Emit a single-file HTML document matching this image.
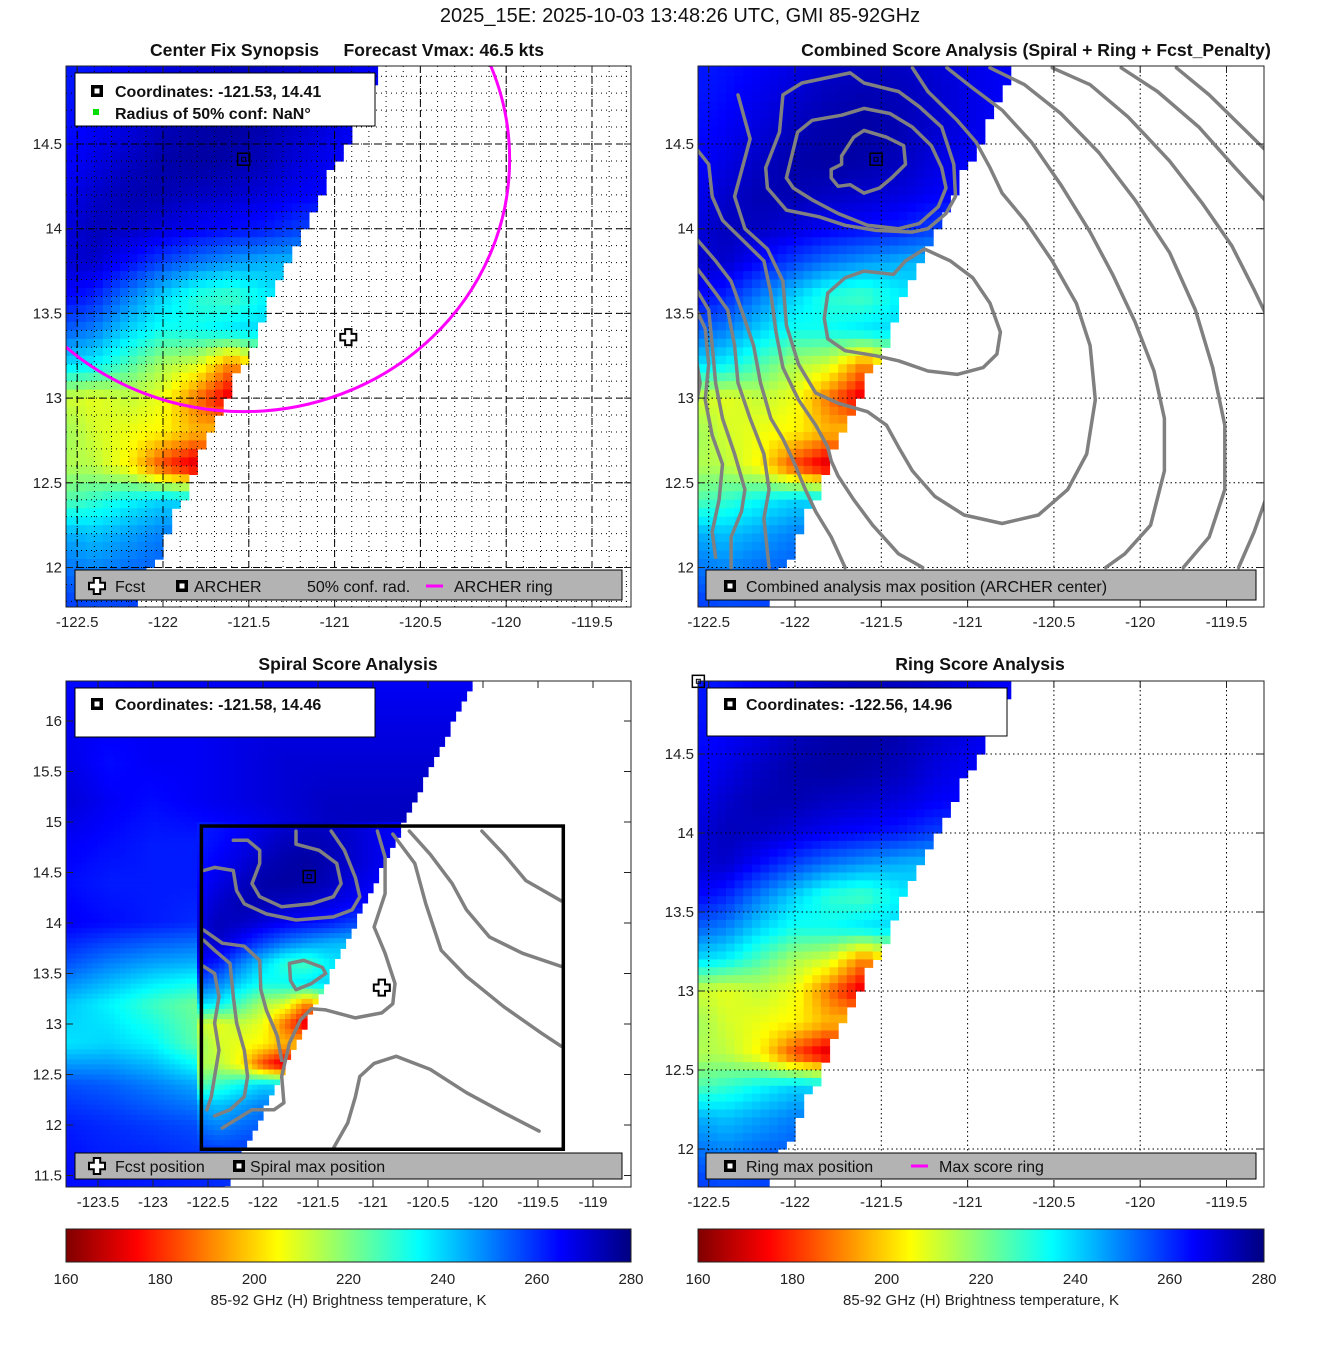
<!DOCTYPE html>
<html><head><meta charset="utf-8"><title>GMI 85-92GHz Center Fix</title>
<style>
html,body{margin:0;padding:0;background:#fff;}
svg{display:block;font-family:"Liberation Sans","DejaVu Sans",sans-serif;}
.tk{font-size:15px;fill:#222;}
.ttl{font-size:17.6px;font-weight:bold;fill:#111;}
.lg{font-size:16px;fill:#111;}
.lgb{font-size:16px;font-weight:bold;fill:#111;}
</style></head>
<body>
<svg id="fig" width="1317" height="1350" viewBox="0 0 1317 1350" xmlns="http://www.w3.org/2000/svg">
<rect x="0" y="0" width="1317" height="1350" fill="#fff"/>
<text x="680" y="22" text-anchor="middle" font-size="20" fill="#111">2025_15E: 2025-10-03 13:48:26 UTC, GMI 85-92GHz</text>
<text class="ttl" x="347" y="56" text-anchor="middle" xml:space="preserve">Center Fix Synopsis     Forecast Vmax: 46.5 kts</text>
<text class="ttl" x="1036" y="56" text-anchor="middle">Combined Score Analysis (Spiral + Ring + Fcst_Penalty)</text>
<text class="ttl" x="348" y="670" text-anchor="middle">Spiral Score Analysis</text>
<text class="ttl" x="980" y="670" text-anchor="middle">Ring Score Analysis</text>
<defs>
<clipPath id="clip1"><rect x="66" y="66" width="565" height="541"/></clipPath>
<clipPath id="clip2"><rect x="698" y="66" width="566" height="541"/></clipPath>
<clipPath id="clip3"><rect x="66" y="681" width="565" height="506"/></clipPath>
<clipPath id="clip4"><rect x="698" y="681" width="566" height="506"/></clipPath>
<linearGradient id="cbgrad" x1="0" x2="1" y1="0" y2="0"></linearGradient>
</defs>
<g id="layers"></g>
</svg>
<script>
// ---------------- DATA ----------------
const fineLons = [-122.6,-122.4,-122.2,-122.0,-121.8,-121.6,-121.4,-121.2,-121.0,-120.8,-120.6];
const fineLats = [15.0,14.8,14.6,14.4,14.2,14.0,13.8,13.6,13.4,13.2,13.0,12.8,12.6,12.4,12.2,12.0,11.8];
const fineTb = [
[262,263,265,268,270,272,272,270,268,266,265],
[262,264,267,270,273,274,273,271,268,266,265],
[263,266,269,273,275,276,274,271,268,265,264],
[264,268,272,275,276,275,273,269,266,264,262],
[266,271,274,274,272,271,269,266,264,262,260],
[268,273,272,269,266,264,262,258,256,255,255],
[270,271,264,257,251,247,244,242,242,242,242],
[266,261,250,240,230,227,236,240,240,240,240],
[255,250,240,233,234,238,240,240,240,240,240],
[240,236,226,215,210,190,210,220,225,230,230],
[212,208,212,207,188,170,200,215,220,225,230],
[218,210,207,204,196,200,210,220,225,230,230],
[215,213,204,182,168,200,215,225,230,235,235],
[224,229,235,240,238,240,240,240,240,240,240],
[245,242,246,250,250,250,250,250,250,250,250],
[252,249,252,254,255,255,255,255,255,255,255],
[258,256,257,258,258,258,258,258,258,258,258]];
const coarseLons = [-123.8,-123.4,-123.0,-122.6,-122.2,-121.8,-121.4,-121.0,-120.6,-120.2];
const coarseLats = [16.4,16.0,15.6,15.2,14.8,14.4,14.0,13.6,13.2,12.8,12.4,12.0,11.6,11.2];
const coarseTb = [
[264,264,266,266,266,266,266,266,266,266],
[266,266,266,266,268,268,268,268,268,268],
[268,264,266,266,268,270,270,270,270,270],
[270,266,264,266,268,270,272,272,272,272],
[266,264,262,262,264,268,272,272,272,272],
[264,262,262,262,264,270,274,272,270,270],
[266,264,262,260,262,266,264,262,258,258],
[256,250,246,244,250,250,240,240,240,240],
[242,236,228,222,230,218,205,225,230,230],
[238,240,236,224,212,198,200,220,230,230],
[256,254,250,245,240,235,235,240,240,240],
[262,260,258,256,254,252,252,252,252,252],
[264,262,262,260,258,256,256,256,256,256],
[264,264,262,262,260,258,258,258,258,258]];
const edgeLat = [14.96,14.49,14.3,14.02,13.94,13.75,13.52,13.24,13.11,12.93,12.82,12.59,12.44,12.27,12.08,12.0,11.76];
const edgeLon = [-120.73,-120.94,-121.04,-121.15,-121.2,-121.3,-121.4,-121.5,-121.6,-121.65,-121.71,-121.82,-121.86,-121.96,-122.02,-122.07,-122.17];
const wideEdgeLat = [16.4,11.3];
const wideEdgeLon = [-120.09,-122.37];
const archerPos = [-121.53,14.41];
const spiralPos = [-121.58,14.46];
const ringPos = [-122.56,14.96];
const fcstPos = [-120.92,13.36];
const ringRadius = [1.55,1.49];
const boxLon = [-122.56,-119.27];
const boxLat = [11.76,14.96];
const xTicks12 = [-122.5,-122,-121.5,-121,-120.5,-120,-119.5];
const yTicks12 = [12,12.5,13,13.5,14,14.5];
const xTicks3 = [-123.5,-123,-122.5,-122,-121.5,-121,-120.5,-120,-119.5,-119];
const yTicks3 = [11.5,12,12.5,13,13.5,14,14.5,15,15.5,16];
const cbTicks = [160,180,200,220,240,260,280];
const cA = [[-121.73,14.43],[-121.66,14.54],[-121.60,14.58],[-121.47,14.54],[-121.37,14.49],[-121.36,14.38],[-121.44,14.30],[-121.51,14.24],[-121.60,14.21],[-121.68,14.26],[-121.75,14.25],[-121.79,14.30],[-121.79,14.35],[-121.73,14.38],[-121.73,14.43]];
const cB = [[-122.05,14.30],[-121.985,14.57],[-121.90,14.64],[-121.73,14.67],[-121.60,14.71],[-121.45,14.68],[-121.32,14.60],[-121.21,14.49],[-121.15,14.36],[-121.125,14.24],[-121.17,14.13],[-121.28,14.03],[-121.40,14.00],[-121.58,14.02],[-121.75,14.09],[-121.90,14.17],[-122.01,14.24],[-122.05,14.30]];
const cC = [[-122.17,14.36],[-122.09,14.57],[-122.07,14.79],[-121.96,14.86],[-121.68,14.92],[-121.60,14.86],[-121.40,14.81],[-121.28,14.72],[-121.15,14.60],[-121.08,14.38],[-121.07,14.19],[-121.125,14.09],[-121.23,14.00],[-121.32,13.98],[-121.53,13.99],[-121.71,14.02],[-121.86,14.07],[-122.05,14.11],[-122.16,14.24],[-122.17,14.36]];
const cE1 = [[-121.81,13.62],[-121.71,13.71],[-121.60,13.75],[-121.43,13.73],[-121.36,13.81],[-121.25,13.88],[-121.10,13.81],[-120.97,13.71],[-120.87,13.56],[-120.81,13.39],[-120.83,13.26],[-120.91,13.18],[-121.06,13.14],[-121.23,13.16],[-121.40,13.22],[-121.53,13.25],[-121.71,13.28],[-121.81,13.35],[-121.83,13.47],[-121.81,13.62]];
const cE2 = [[-122.33,14.79],[-122.26,14.53],[-122.35,14.19],[-122.29,14.00],[-122.16,13.88],[-122.07,13.69],[-122.05,13.43],[-121.98,13.20],[-121.88,13.03],[-121.75,12.97],[-121.58,12.92],[-121.47,12.84],[-121.40,12.71],[-121.32,12.57],[-121.19,12.42],[-121.02,12.31],[-120.80,12.26],[-120.59,12.31],[-120.42,12.46],[-120.31,12.67],[-120.26,12.99],[-120.29,13.31],[-120.37,13.56],[-120.51,13.81],[-120.67,14.05],[-120.80,14.21],[-120.87,14.36],[-120.95,14.51],[-121.06,14.64],[-121.23,14.81],[-121.32,14.95]];
const cE3 = [[-121.12,14.95],[-120.97,14.83],[-120.80,14.70],[-120.63,14.51],[-120.46,14.26],[-120.29,13.98],[-120.16,13.73],[-120.03,13.45],[-119.92,13.16],[-119.86,12.88],[-119.86,12.57],[-119.94,12.25],[-120.09,12.08],[-120.20,12.00]];
const cE4 = [[-120.87,14.95],[-120.67,14.85],[-120.46,14.68],[-120.24,14.45],[-120.03,14.17],[-119.83,13.86],[-119.68,13.52],[-119.58,13.18],[-119.51,12.84],[-119.51,12.46],[-119.60,12.18],[-119.75,12.00]];
const cE5 = [[-120.51,14.95],[-120.29,14.85],[-120.07,14.66],[-119.83,14.40],[-119.64,14.15],[-119.47,13.90],[-119.34,13.64],[-119.26,13.47]];
const cE5b = [[-119.43,12.00],[-119.34,12.21],[-119.26,12.44]];
const cE6 = [[-120.11,14.95],[-119.90,14.81],[-119.66,14.60],[-119.45,14.36],[-119.26,14.15]];
const cE7 = [[-119.79,14.95],[-119.60,14.79],[-119.43,14.62],[-119.26,14.45]];
const cL2 = [[-122.57,14.47],[-122.50,14.38],[-122.48,14.19],[-122.42,14.05],[-122.29,13.92],[-122.18,13.81],[-122.14,13.62],[-122.11,13.39],[-122.07,13.18],[-121.98,12.99],[-121.88,12.84],[-121.81,12.71],[-121.79,12.63],[-121.75,12.54],[-121.66,12.40],[-121.55,12.25],[-121.40,12.08],[-121.26,12.00]];
const cL3 = [[-122.57,13.94],[-122.46,13.81],[-122.37,13.69],[-122.31,13.52],[-122.24,13.31],[-122.20,13.09],[-122.14,12.88],[-122.07,12.76],[-122.01,12.63],[-121.94,12.46],[-121.88,12.33],[-121.79,12.18],[-121.71,12.00]];
const cL4 = [[-122.57,13.77],[-122.46,13.62],[-122.39,13.52],[-122.35,13.31],[-122.33,13.09],[-122.26,12.88],[-122.18,12.67],[-122.15,12.46],[-122.18,12.29],[-122.15,12.00]];
const cL5 = [[-122.57,13.64],[-122.50,13.52],[-122.48,13.31],[-122.46,13.09],[-122.42,12.88],[-122.35,12.67],[-122.29,12.46],[-122.31,12.33],[-122.37,12.18],[-122.37,12.00]];
const cL6 = [[-122.57,13.52],[-122.52,13.41],[-122.50,13.20],[-122.52,12.99],[-122.48,12.78],[-122.42,12.61],[-122.44,12.40],[-122.48,12.21],[-122.46,12.06]];
const cL7 = [[-122.57,13.22],[-122.55,13.09],[-122.57,12.97]];
const combinedContours = [cA,cB,cC,cE1,cE2,cE3,cE4,cE5,cE5b,cE6,cE7,cL2,cL3,cL4,cL5,cL6,cL7];
const s1 = [[-121.70,14.91],[-121.70,14.78],[-121.49,14.72],[-121.33,14.59],[-121.29,14.39],[-121.36,14.26],[-121.56,14.19],[-121.83,14.16],[-122.03,14.26],[-122.10,14.39],[-122.03,14.59],[-122.03,14.72],[-122.14,14.82],[-122.27,14.82]];
const s2 = [[-121.38,14.91],[-121.26,14.72],[-121.16,14.45],[-121.12,14.26],[-121.19,14.13],[-121.36,14.06],[-121.70,14.03],[-121.97,14.09],[-122.17,14.19],[-122.24,14.32],[-122.27,14.52],[-122.44,14.55],[-122.54,14.52]];
const s3 = [[-120.96,14.91],[-120.89,14.65],[-120.89,14.29],[-120.99,13.96],[-120.89,13.70],[-120.80,13.40],[-120.82,13.20],[-120.92,13.11],[-121.16,13.06],[-121.43,13.14],[-121.56,13.15],[-121.66,13.04],[-121.76,12.81],[-121.83,12.48],[-121.81,12.22],[-121.90,12.15],[-122.10,12.15],[-122.37,11.97]];
const s4 = [[-121.76,13.60],[-121.63,13.63],[-121.46,13.56],[-121.43,13.50],[-121.56,13.40],[-121.70,13.34],[-121.75,13.43],[-121.76,13.60]];
const s6 = [[-122.54,13.93],[-122.37,13.80],[-122.17,13.77],[-122.03,13.63],[-122.02,13.34],[-121.97,13.14],[-121.87,12.88],[-121.83,12.64]];
const s7 = [[-122.54,13.83],[-122.44,13.73],[-122.30,13.60],[-122.27,13.27],[-122.24,13.01],[-122.17,12.74],[-122.14,12.48],[-122.17,12.28],[-122.30,12.15],[-122.44,12.09]];
const s8 = [[-122.54,13.57],[-122.44,13.50],[-122.40,13.27],[-122.44,13.01],[-122.40,12.74],[-122.44,12.48],[-122.47,12.28],[-122.51,12.15]];
const s9 = [[-121.36,11.77],[-121.23,12.02],[-121.16,12.28],[-121.12,12.48],[-120.99,12.61],[-120.79,12.68],[-120.48,12.55],[-120.15,12.32],[-119.81,12.12],[-119.49,11.94]];
const s10 = [[-120.67,14.91],[-120.48,14.68],[-120.28,14.39],[-120.15,14.13],[-119.94,13.86],[-119.64,13.70],[-119.29,13.57]];
const s11 = [[-120.01,14.91],[-119.81,14.68],[-119.61,14.42],[-119.29,14.22]];
const s13 = [[-120.82,14.88],[-120.62,14.59],[-120.52,14.19],[-120.38,13.73],[-120.15,13.47],[-119.81,13.17],[-119.47,12.91],[-119.29,12.78]];
const spiralContours = [s1,s2,s3,s4,s6,s7,s8,s9,s10,s11,s13];

// ---------------- HELPERS ----------------
const NS = 'http://www.w3.org/2000/svg';
const root = document.getElementById('layers');
function mk(tag, attrs, parent){
  const e = document.createElementNS(NS, tag);
  for (const k in attrs) e.setAttribute(k, attrs[k]);
  (parent||root).appendChild(e);
  return e;
}
function clamp(v){return Math.max(0,Math.min(1,v));}
function jet(T){
  const t = clamp((280 - T)/120);
  const r = clamp(1.5 - Math.abs(4*t-3)), g = clamp(1.5 - Math.abs(4*t-2)), b = clamp(1.5 - Math.abs(4*t-1));
  return 'rgb('+Math.round(r*255)+','+Math.round(g*255)+','+Math.round(b*255)+')';
}
function bilinear(lons, lats, grid, lon, lat){
  const dl = lons[1]-lons[0], dt = lats[0]-lats[1];
  let fi = (lon - lons[0])/dl, fj = (lats[0]-lat)/dt;
  fi = Math.max(0, Math.min(lons.length-1.0001, fi));
  fj = Math.max(0, Math.min(lats.length-1.0001, fj));
  const i = Math.floor(fi), j = Math.floor(fj), a = fi-i, b = fj-j;
  return grid[j][i]*(1-a)*(1-b) + grid[j][i+1]*a*(1-b) + grid[j+1][i]*(1-a)*b + grid[j+1][i+1]*a*b;
}
function edgeAt(lats, lons, lat){
  if (lat >= lats[0]) return lons[0];
  for (let k=0;k<lats.length-1;k++){
    if (lat <= lats[k] && lat >= lats[k+1]){
      const f = (lats[k]-lat)/(lats[k]-lats[k+1]);
      return lons[k] + f*(lons[k+1]-lons[k]);
    }
  }
  return lons[lons.length-1];
}
function fineVal(lon,lat){return bilinear(fineLons, fineLats, fineTb, lon, lat);}
function wideVal(lon,lat){
  if (lon >= -122.6 && lon <= -120.6 && lat <= 15.0 && lat >= 11.8) return fineVal(lon,lat);
  return bilinear(coarseLons, coarseLats, coarseTb, lon, lat);
}

const P1 = {x0:66,y0:66,w:565,h:541,xA:163,sx:171.6,yA:144,sy:169.4,clip:'clip1',id:'panel1'};
const P2 = {x0:698,y0:66,w:566,h:541,xA:795,sx:172.6,yA:144,sy:169.4,clip:'clip2',id:'panel2'};
const P3 = {x0:66,y0:681,w:565,h:506,xA:263,sx:110,yA:721,sy:101,clip:'clip3',id:'panel3',latRef:16};
const P4 = {x0:698,y0:681,w:566,h:506,xA:795,sx:172.6,yA:754,sy:158,clip:'clip4',id:'panel4'};
function X(p,lon){return p.xA + (lon + 122)*p.sx;}
function Y(p,lat){return p.yA + ((p.latRef||14.5) - lat)*p.sy;}

function heatmap(p, valFn, eLats, eLons, lonMin, lonMax, latMin, latMax, step){
  const g = mk('g', {'clip-path':'url(#'+p.clip+')'});
  
  
  const nI = Math.round((lonMax-lonMin)/step), nJ = Math.round((latMax-latMin)/step);
  for (let j=0;j<nJ;j++){
    const la1 = latMax - j*step, la0 = la1 - step, lac = la1 - step/2;
    const eL = edgeAt(eLats, eLons, lac);
    for (let i=0;i<nI;i++){
      const lo0 = lonMin + i*step, lo1 = lo0 + step, loc = lo0 + step/2;
      if (loc > eL) break;
      const x0 = X(p,lo0), x1 = X(p,lo1), y0 = Y(p,la1), y1 = Y(p,la0);
      const r = mk('rect', {x:x0.toFixed(1), y:y0.toFixed(1), width:(x1-x0+0.6).toFixed(1), height:(y1-y0+0.6).toFixed(1), fill:jet(valFn(loc,lac))}, g);
      
      
    }
  }
}
function polyPath(p, pts){
  return pts.map((q,k)=>(k?'L':'M')+X(p,q[0]).toFixed(1)+','+Y(p,q[1]).toFixed(1)).join('');
}
function contours(p, list, name){
  const g = mk('g', {'clip-path':'url(#'+p.clip+')', fill:'none', stroke:'#808080', 'stroke-width':3.5, 'stroke-linejoin':'round', 'stroke-linecap':'round'});
  
  
  list.forEach(c=>{
    const path = mk('path', {d:polyPath(p,c)}, g);
    
    
  });
}
function grid(p, lonList, latList, dash, width, name){
  const g = mk('g', {'clip-path':'url(#'+p.clip+')', stroke:'#000', 'stroke-width':width, 'stroke-dasharray':dash, fill:'none'});
  
  
  lonList.forEach(lo=>{ const l = mk('line', {x1:X(p,lo), x2:X(p,lo), y1:p.y0, y2:p.y0+p.h}, g);
    
     });
  latList.forEach(la=>{ const l = mk('line', {x1:p.x0, x2:p.x0+p.w, y1:Y(p,la), y2:Y(p,la)}, g);
    
     });
}
function axes(p, xt, yt){
  const f = mk('rect', {x:p.x0, y:p.y0, width:p.w, height:p.h, fill:'none', stroke:'#222', 'stroke-width':1});
  
  
  const g = mk('g', {stroke:'#222','stroke-width':1});
  
  
  xt.forEach(v=>{
    const x = X(p,v);
    mk('line',{x1:x,x2:x,y1:p.y0+p.h,y2:p.y0+p.h-7},g);
    mk('line',{x1:x,x2:x,y1:p.y0,y2:p.y0+7},g);
    const t = mk('text',{x:x, y:p.y0+p.h+20, 'text-anchor':'middle', class:'tk', stroke:'none'});
    t.textContent = String(v);
    
    
  });
  yt.forEach(v=>{
    const y = Y(p,v);
    mk('line',{x1:p.x0,x2:p.x0+7,y1:y,y2:y},g);
    mk('line',{x1:p.x0+p.w,x2:p.x0+p.w-7,y1:y,y2:y},g);
    const t = mk('text',{x:p.x0-4, y:y+5, 'text-anchor':'end', class:'tk', stroke:'none'});
    t.textContent = String(v);
    
    
  });
}
function crossAt(x,y,parent){
  const a=3.2,b=8;
  return mk('path',{d:`M${x-a},${y-b}H${x+a}V${y-a}H${x+b}V${y+a}H${x+a}V${y+b}H${x-a}V${y+a}H${x-b}V${y-a}H${x-a}Z`, fill:'#fff', stroke:'#000','stroke-width':2}, parent);
}
function squareAt(x,y,parent,legend){
  const g = mk('g',{},parent);
  if (legend){
    mk('rect',{x:x-6,y:y-6,width:12,height:12,fill:'#000'},g);
    mk('rect',{x:x-2.5,y:y-2.5,width:5,height:5,fill:'#fff'},g);
  } else {
    mk('rect',{x:x-6,y:y-6,width:12,height:12,fill:'none',stroke:'#000','stroke-width':1.5},g);
    mk('rect',{x:x-2,y:y-2,width:4,height:4,fill:'none',stroke:'#000','stroke-width':1},g);
  }
  return g;
}
function txt(x,y,s,cls,name){
  const t = mk('text',{x:x,y:y,class:cls});
  t.textContent = s;
  
  
  return t;
}
function legendBox(x,y,w,h,fill,name){
  const r = mk('rect',{x:x,y:y,width:w,height:h,fill:fill,stroke:'#000','stroke-width':1});
  
  
}

// ---------------- PANEL 1 ----------------
heatmap(P1, fineVal, edgeLat, edgeLon, -122.6, -120.6, 11.75, 15.0, 0.05);
const minorLon=[], minorLat=[];
for (let k=0;k<=34;k++){ minorLon.push(-122.6+k*0.1); }
for (let k=0;k<=33;k++){ minorLat.push(11.7+k*0.1); }
grid(P1, minorLon, minorLat, '1 4', 1, 'panel1-minor-grid');
grid(P1, xTicks12, yTicks12, '7 4', 1, 'panel1-major-grid');
{
  const g = mk('g',{'clip-path':'url(#clip1)'});
  
  
  const e = mk('ellipse',{cx:X(P1,archerPos[0]), cy:Y(P1,archerPos[1]), rx:ringRadius[0]*P1.sx, ry:ringRadius[1]*P1.sy, fill:'none', stroke:'#ff00ff','stroke-width':3}, g);
  
  
}
{
  const m = squareAt(X(P1,archerPos[0]), Y(P1,archerPos[1]));
  
  
  const c = crossAt(X(P1,fcstPos[0]), Y(P1,fcstPos[1]));
  
  
}
axes(P1, xTicks12, yTicks12);
legendBox(75,73,300,53,'#fff','panel1-info-box');
{ const m = squareAt(97,91,root,true);   }
txt(115,97,'Coordinates: -121.53, 14.41','lgb','panel1-coordinates');
{ const r = mk('rect',{x:93,y:109,width:6,height:6,fill:'#00dd00'});   }
txt(115,119,'Radius of 50% conf: NaN°','lgb','panel1-radius');
legendBox(75,570,547,30,'#b3b3b3','panel1-legend');
{ const c = crossAt(97,586);   }
txt(115,592,'Fcst','lg','legend-fcst');
{ const m = squareAt(182,586,root,true);   }
txt(194,592,'ARCHER','lg','legend-archer');
txt(307,592,'50% conf. rad.','lg','legend-conf-rad');
{ const l = mk('line',{x1:426,x2:443,y1:586,y2:586,stroke:'#ff00ff','stroke-width':3});   }
txt(454,592,'ARCHER ring','lg','legend-archer-ring');

// ---------------- PANEL 2 ----------------
heatmap(P2, fineVal, edgeLat, edgeLon, -122.6, -120.6, 11.75, 15.0, 0.05);
grid(P2, xTicks12, yTicks12, '1.5 3', 1, 'panel2-grid');
contours(P2, combinedContours, 'combined-score-contours');
{ const m = squareAt(X(P2,archerPos[0]), Y(P2,archerPos[1]));   }
axes(P2, xTicks12, yTicks12);
legendBox(706,570,550,30,'#b3b3b3','panel2-legend');
{ const m = squareAt(730,586,root,true);   }
txt(746,592,'Combined analysis max position (ARCHER center)','lg','legend-combined');

// ---------------- PANEL 3 ----------------
heatmap(P3, wideVal, wideEdgeLat, wideEdgeLon, -123.85, -120.0, 11.3, 16.45, 0.05);
contours(P3, spiralContours, 'spiral-score-contours');
{
  const r = mk('rect',{x:X(P3,boxLon[0]), y:Y(P3,boxLat[1]), width:X(P3,boxLon[1])-X(P3,boxLon[0]), height:Y(P3,boxLat[0])-Y(P3,boxLat[1]), fill:'none', stroke:'#000','stroke-width':3.5});
  
  
  const m = squareAt(X(P3,spiralPos[0]), Y(P3,spiralPos[1]));
  
  
  const c = crossAt(X(P3,fcstPos[0]), Y(P3,fcstPos[1]));
  
  
}
axes(P3, xTicks3, yTicks3);
legendBox(75,688,300,49,'#fff','panel3-info-box');
{ const m = squareAt(97,704,root,true);   }
txt(115,710,'Coordinates: -121.58, 14.46','lgb','panel3-coordinates');
legendBox(75,1153,547,26,'#b3b3b3','panel3-legend');
{ const c = crossAt(97,1166);   }
txt(115,1172,'Fcst position','lg','legend-fcst-position');
{ const m = squareAt(239,1166,root,true);   }
txt(250,1172,'Spiral max position','lg','legend-spiral-max');

// ---------------- PANEL 4 ----------------
heatmap(P4, fineVal, edgeLat, edgeLon, -122.6, -120.6, 11.75, 15.0, 0.05);
grid(P4, xTicks12, yTicks12, '1.5 3', 1, 'panel4-grid');
{ const m = squareAt(X(P4,ringPos[0]), Y(P4,ringPos[1]));   }
axes(P4, xTicks12, yTicks12);
legendBox(707,688,300,48,'#fff','panel4-info-box');
{ const m = squareAt(730,704,root,true);   }
txt(746,710,'Coordinates: -122.56, 14.96','lgb','panel4-coordinates');
legendBox(706,1153,550,26,'#b3b3b3','panel4-legend');
{ const m = squareAt(730,1166,root,true);   }
txt(746,1172,'Ring max position','lg','legend-ring-max');
{ const l = mk('line',{x1:911,x2:928,y1:1166,y2:1166,stroke:'#ff00ff','stroke-width':3});   }
txt(939,1172,'Max score ring','lg','legend-max-score-ring');

// ---------------- COLORBARS ----------------
const grad = document.getElementById('cbgrad');
for (let k=0;k<=40;k++){
  const T = 160 + k*3;
  const s = document.createElementNS(NS,'stop');
  s.setAttribute('offset', (k/40).toFixed(3));
  s.setAttribute('stop-color', jet(T));
  grad.appendChild(s);
}
[[66,565,'left'],[698,566,'right']].forEach(cb=>{
  const r = mk('rect',{x:cb[0],y:1229,width:cb[1],height:33,fill:'url(#cbgrad)',stroke:'#222','stroke-width':1});
  
  
  cbTicks.forEach(v=>{
    const x = cb[0] + (v-160)/120*cb[1];
    const t = mk('text',{x:x,y:1284,'text-anchor':'middle',class:'tk','font-size':14});
    t.textContent = String(v);
    
    
  });
  const lb = mk('text',{x:cb[0]+cb[1]/2,y:1305,'text-anchor':'middle',class:'tk','font-size':14});
  lb.textContent = '85-92 GHz (H) Brightness temperature, K';
  
  
});
</script>
</body></html>
